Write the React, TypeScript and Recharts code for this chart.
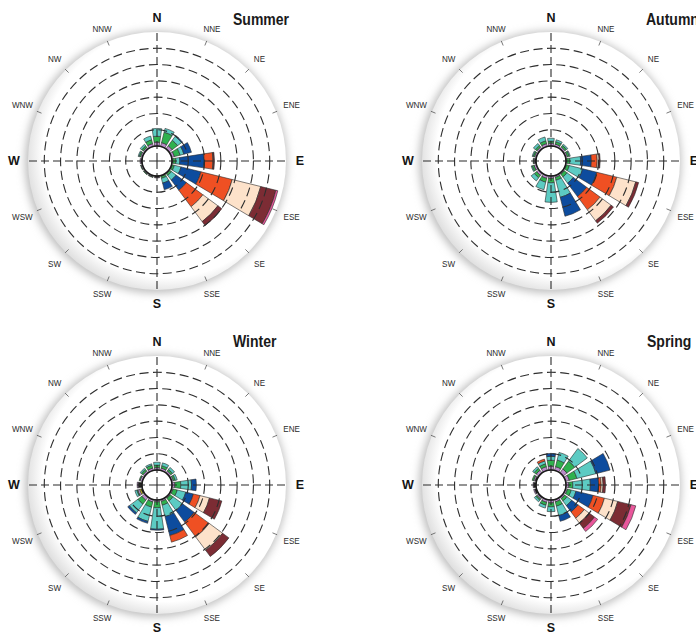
import React from 'react';
import { RadialBarChart, RadialBar, PolarAngleAxis, PolarRadiusAxis, PolarGrid, Sector } from 'recharts';

// Sixteen compass sectors, clockwise from north
const DIRS = ['N', 'NNE', 'NE', 'ENE', 'E', 'ESE', 'SE', 'SSE', 'S', 'SSW', 'SW', 'WSW', 'W', 'WNW', 'NW', 'NNW'];

// Wind speed classes, innermost first
const SPEED_BINS = ['< 0.5', '0.5–1', '1–2', '2–3', '3–4', '4–5', '5–6', '6–7', '7–8', '> 8'];
const BIN_COLORS = ['#1e1e1e', '#f2e21c', '#b98bc9', '#2fb14e', '#5ccbc3', '#0d4c9e', '#ef5023', '#fde2ca', '#7c2c34', '#e9579b'];

// Frequency (%) per speed class and direction
const SUMMER = [
  [0, 0, 0, 0, 0, 0, 0, 0, 0.18, 0, 0, 0, 0.12, 0, 0, 0],
  [0, 0, 0, 0, 0, 0, 0, 0, 0, 0, 0, 0, 0, 0, 0, 0],
  [0.48, 0.48, 0.48, 0.36, 0.12, 0.12, 0.12, 0.12, 0.06, 0.18, 0.18, 0.18, 0.12, 0.24, 0.24, 0.36],
  [0.72, 1.32, 0.84, 0.72, 0.36, 0.24, 0.24, 0.24, 0, 0.06, 0.06, 0.06, 0, 0.18, 0.24, 0.48],
  [0.96, 0.48, 0.6, 0.48, 0.48, 0.84, 0.72, 0.6, 0, 0, 0, 0, 0, 0.12, 0.24, 0.48],
  [0, 0, 0.12, 0.96, 3.0, 2.52, 1.56, 0.84, 0, 0, 0, 0, 0, 0, 0, 0],
  [0, 0, 0, 0, 1.08, 3.96, 2.52, 0, 0, 0, 0, 0, 0, 0, 0, 0],
  [0, 0, 0, 0, 0.06, 3.6, 2.28, 0, 0, 0, 0, 0, 0, 0, 0, 0],
  [0, 0, 0, 0, 0.12, 1.92, 0.6, 0, 0, 0, 0, 0, 0, 0, 0, 0],
  [0, 0, 0, 0, 0, 0.24, 0, 0, 0, 0, 0, 0, 0, 0, 0, 0],
];

const AUTUMN = [
  [0, 0, 0, 0, 0, 0, 0, 0, 0, 0, 0, 0, 0.18, 0, 0, 0],
  [0, 0, 0, 0, 0, 0, 0, 0, 0, 0, 0, 0, 0, 0, 0, 0],
  [0.36, 0.3, 0.3, 0.24, 0.12, 0.12, 0.18, 0.24, 0.3, 0.36, 0.36, 0.3, 0.12, 0.24, 0.3, 0.36],
  [0.24, 0.3, 0.24, 0.24, 0.36, 0.36, 0.42, 0.36, 0.54, 0.48, 0.36, 0.24, 0.06, 0.18, 0.24, 0.36],
  [0.36, 0.24, 0.18, 0.12, 1.32, 1.68, 0.96, 2.16, 2.4, 0.96, 0.48, 0.12, 0, 0.12, 0.3, 0.48],
  [0, 0, 0, 0, 1.32, 1.8, 2.04, 2.4, 0, 0, 0, 0, 0, 0, 0, 0],
  [0, 0, 0, 0, 0.72, 2.52, 2.04, 0, 0, 0, 0, 0, 0, 0, 0, 0],
  [0, 0, 0, 0, 0.24, 2.4, 1.68, 0, 0, 0, 0, 0, 0, 0, 0, 0],
  [0, 0, 0, 0, 0.12, 0.36, 0.36, 0, 0, 0, 0, 0, 0, 0, 0, 0],
  [0, 0, 0, 0, 0, 0, 0, 0, 0, 0, 0, 0, 0, 0, 0, 0],
];

const WINTER = [
  [0, 0, 0, 0, 0, 0, 0, 0, 0, 0, 0, 0.18, 0.48, 0, 0, 0],
  [0, 0, 0, 0, 0, 0, 0, 0, 0, 0, 0, 0.18, 0, 0, 0, 0],
  [0.3, 0.3, 0.3, 0.24, 0.36, 0.18, 0.18, 0.24, 0.24, 0.3, 0.48, 0.24, 0.12, 0.3, 0.3, 0.3],
  [0.3, 0.3, 0.24, 0.24, 0.72, 0.54, 0.42, 0.48, 0.72, 0.66, 0.6, 0.12, 0, 0.12, 0.24, 0.36],
  [0.36, 0.36, 0.3, 0.24, 1.32, 1.08, 1.44, 1.44, 2.64, 1.8, 1.32, 0.24, 0, 0, 0.18, 0.18],
  [0, 0, 0, 0, 0.6, 0.96, 1.8, 2.4, 0.12, 0.24, 0.24, 0, 0, 0, 0, 0],
  [0, 0, 0, 0, 0, 0.84, 2.28, 0.84, 0, 0, 0, 0, 0, 0, 0, 0],
  [0, 0, 0, 0, 0, 1.2, 2.04, 0, 0, 0, 0, 0, 0, 0, 0, 0],
  [0, 0, 0, 0, 0, 1.56, 0.96, 0, 0, 0, 0, 0, 0, 0, 0, 0],
  [0, 0, 0, 0, 0, 0, 0, 0, 0, 0, 0, 0, 0, 0, 0, 0],
];

const SPRING = [
  [0, 0, 0, 0, 0, 0, 0, 0, 0, 0, 0.12, 0.24, 0.3, 0.18, 0, 0],
  [0, 0, 0, 0, 0, 0, 0, 0, 0, 0, 0, 0, 0, 0, 0, 0],
  [0.48, 0.48, 0.6, 0.48, 0.36, 0.24, 0.24, 0.3, 0.36, 0.36, 0.18, 0.12, 0.06, 0.18, 0.42, 0.48],
  [0.72, 0.84, 1.2, 0.96, 0.48, 0.48, 0.36, 0.54, 0.48, 0.36, 0.18, 0, 0, 0.18, 0.3, 0.36],
  [0.48, 0.96, 1.92, 2.4, 2.16, 0.6, 0.72, 1.2, 0.6, 0.36, 0.24, 0, 0, 0, 0.24, 0.36],
  [0.36, 0, 0, 1.8, 1.02, 2.16, 0.96, 0.72, 0, 0, 0, 0, 0, 0, 0, 0],
  [0, 0, 0, 0, 0.3, 1.44, 0.96, 0, 0, 0, 0, 0, 0, 0, 0, 0.24],
  [0, 0, 0, 0, 0.24, 1.68, 0.72, 0, 0, 0, 0, 0, 0, 0, 0, 0],
  [0, 0, 0, 0, 0.3, 1.68, 0.84, 0, 0, 0, 0, 0, 0, 0, 0, 0],
  [0, 0, 0, 0, 0, 0.6, 0.48, 0, 0, 0, 0, 0, 0, 0, 0, 0],
];

const RING_TICKS = [2, 4, 6, 8, 10, 12];
const RADIUS_MAX = 13.68;

// Panel geometry
const PW = 394;
const PH = 324;
const CX = 157;
const CY = 161;
const HUB = 15;
const OUTER = 129;
// the band scale puts the first category at the far end of the range,
// so the sweep starts half a sector before north
const START = 90 - 11.25;
const END = START - 360;

const PANELS = [
  { key: 'summer', title: 'Summer', values: SUMMER, left: 0, top: 0, tx: 233, ty: 25 },
  { key: 'autumn', title: 'Autumn', values: AUTUMN, left: 394, top: 0, tx: 252, ty: 25 },
  { key: 'winter', title: 'Winter', values: WINTER, left: 0, top: 324, tx: 233, ty: 23 },
  { key: 'spring', title: 'Spring', values: SPRING, left: 394, top: 324, tx: 253, ty: 23 },
];

const buildRows = (values: number[][]) =>
  DIRS.map((dir, i) => {
    const row: Record<string, number | string> = { dir, none: 0 };
    SPEED_BINS.forEach((_, k) => {
      row[`b${k}`] = values[k][i];
    });
    return row;
  });

const toXY = (r: number, deg: number) => {
  const a = (deg * Math.PI) / 180;
  return { x: CX + r * Math.cos(a), y: CY - r * Math.sin(a) };
};

const segmentShape = (props: any) => {
  const { cx, cy, innerRadius, outerRadius, startAngle, endAngle, fill } = props;
  if (!(outerRadius - innerRadius > 0.05)) return <g />;
  return (
    <Sector
      cx={cx}
      cy={cy}
      innerRadius={innerRadius}
      outerRadius={outerRadius}
      startAngle={startAngle}
      endAngle={endAngle}
      fill={fill}
      stroke="#2a2a2a"
      strokeWidth={0.6}
    />
  );
};

const emptyShape = () => <g />;

const CARDINALS = ['N', 'E', 'S', 'W'];

const compassTick = (props: any) => {
  const value = props?.payload?.value as string;
  const idx = DIRS.indexOf(value);
  if (idx < 0) return <g />;
  const deg = 90 - idx * 22.5;
  if (CARDINALS.includes(value)) {
    const p = toXY(143, deg);
    return (
      <text
        x={p.x}
        y={p.y}
        textAnchor="middle"
        dominantBaseline="central"
        fontFamily="'Liberation Sans', Arial, sans-serif"
        fontWeight="bold"
        fontSize={12.5}
        fill="#141414"
      >
        {value}
      </text>
    );
  }
  const c = Math.abs(Math.cos((deg * Math.PI) / 180));
  const p = toXY(142 + 4 * c, deg);
  const t1 = toXY(125, deg);
  const t2 = toXY(130, deg);
  return (
    <g>
      <line x1={t1.x} y1={t1.y} x2={t2.x} y2={t2.y} stroke="#555" strokeWidth={0.8} />
      <text
        transform={`translate(${p.x},${p.y}) scale(0.85,1)`}
        textAnchor="middle"
        dominantBaseline="central"
        fontFamily="'Liberation Sans', Arial, sans-serif"
        fontSize={9.5}
        fill="#2a2a2a"
      >
        {value}
      </text>
    </g>
  );
};

const layerStyle: React.CSSProperties = { position: 'absolute', left: 0, top: 0 };

function WindRose({ panel }: { panel: (typeof PANELS)[number] }) {
  const rows = buildRows(panel.values);
  const crossEnds = [0, 90, 180, 270].map((d) => toXY(132, d));
  return (
    <div style={{ position: 'absolute', left: panel.left, top: panel.top, width: PW, height: PH }}>
      <svg width={PW} height={PH} style={layerStyle}>
        <defs>
          <filter id={`halo-${panel.key}`} x="-30%" y="-30%" width="160%" height="160%">
            <feGaussianBlur stdDeviation={4.5} />
          </filter>
          <radialGradient id={`rim-${panel.key}`} cx="0.54" cy="0.47" r="0.56">
            <stop offset="0.86" stopColor="#ffffff" />
            <stop offset="1" stopColor="#dadada" />
          </radialGradient>
        </defs>
        <circle cx={CX - 1} cy={CY + 1} r={131} fill="#bdbdbd" filter={`url(#halo-${panel.key})`} />
        <circle cx={CX} cy={CY} r={OUTER} fill={`url(#rim-${panel.key})`} />
        <text
          transform={`translate(${panel.tx},${panel.ty}) scale(0.85,1)`}
          fontFamily="'Liberation Sans', Arial, sans-serif"
          fontWeight="bold"
          fontSize={16.5}
          fill="#1a1a1a"
        >
          {panel.title}
        </text>
      </svg>

      <RadialBarChart
        width={PW}
        height={PH}
        cx={CX}
        cy={CY}
        innerRadius={HUB}
        outerRadius={OUTER}
        data={rows}
        layout="centric"
        startAngle={START}
        endAngle={END}
        barCategoryGap="13%"
        style={layerStyle}
      >
        <PolarAngleAxis type="category" dataKey="dir" axisLine={false} tickLine={false} tick={compassTick} />
        <PolarRadiusAxis type="number" domain={[0, RADIUS_MAX]} ticks={RING_TICKS} tick={false} axisLine={false} tickLine={false} />
        {SPEED_BINS.map((name, k) => (
          <RadialBar
            key={name}
            name={name}
            dataKey={`b${k}`}
            stackId="speed"
            fill={BIN_COLORS[k]}
            shape={segmentShape}
            isAnimationActive={false}
          />
        ))}
      </RadialBarChart>

      {/* dashed speed rings drawn over the bars */}
      <RadialBarChart
        width={PW}
        height={PH}
        cx={CX}
        cy={CY}
        innerRadius={HUB}
        outerRadius={OUTER}
        data={rows}
        layout="centric"
        startAngle={START}
        endAngle={END}
        style={{ ...layerStyle, pointerEvents: 'none' }}
      >
        <PolarAngleAxis type="category" dataKey="dir" axisLine={false} tickLine={false} tick={false} />
        <PolarRadiusAxis type="number" domain={[0, RADIUS_MAX]} ticks={RING_TICKS} tick={false} axisLine={false} tickLine={false} />
        <PolarGrid gridType="circle" radialLines={false} stroke="#2e2e2e" strokeWidth={1.1} strokeDasharray="9 4.5" />
        <RadialBar dataKey="none" fill="none" shape={emptyShape} isAnimationActive={false} />
      </RadialBarChart>

      <svg width={PW} height={PH} style={{ ...layerStyle, pointerEvents: 'none' }}>
        {crossEnds.map((p, i) => (
          <line key={i} x1={CX} y1={CY} x2={p.x} y2={p.y} stroke="#2a2a2a" strokeWidth={1.1} strokeDasharray="8 4" />
        ))}
        <circle cx={CX} cy={CY} r={HUB} fill="none" stroke="#1a1a1a" strokeWidth={1.5} />
      </svg>
    </div>
  );
}

export default function App() {
  return (
    <div style={{ position: 'absolute', left: 0, top: 0, width: 696, height: 634, overflow: 'hidden', background: '#fff' }}>
      {PANELS.map((p) => (
        <WindRose key={p.key} panel={p} />
      ))}
    </div>
  );
}
